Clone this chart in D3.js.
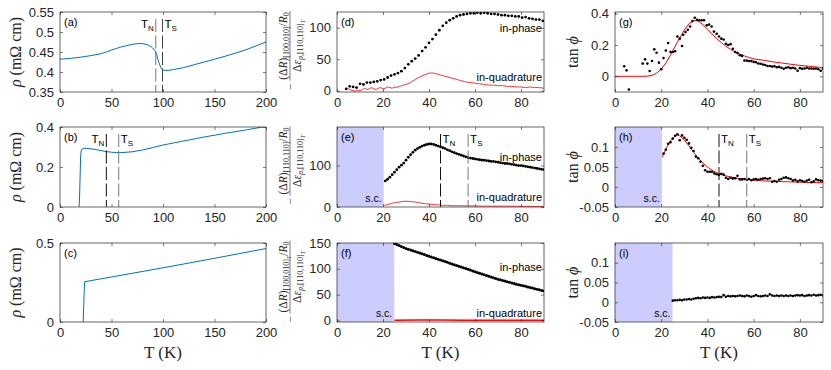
<!DOCTYPE html>
<html>
<head>
<meta charset="utf-8">
<script src="https://cdn.jsdelivr.net/npm/d3@7"></script>
<style>
  body { margin: 0; background: #fff; }
  svg { display: block; }
</style>
</head>
<body>
<div id="chart"></div>
<script>
// ---- data: resistivity, [T (K), rho (mOhm cm)]
const rhoA = [[0,0.432],[10,0.434],[20,0.437],[30,0.441],[40,0.446],[45,0.45],[50,0.455],[55,0.459],[60,0.463],[65,0.466],[70,0.469],[75,0.471],[80,0.471],[85,0.468],[88,0.464],[90,0.46],[92,0.454],[93,0.45],[94,0.442],[95,0.432],[96,0.424],[97,0.417],[98,0.411],[99,0.407],[100,0.405],[102,0.404],[105,0.404],[110,0.406],[120,0.411],[130,0.418],[140,0.425],[150,0.432],[160,0.439],[170,0.447],[180,0.455],[190,0.465],[200,0.475]];
const rhoB = [[18.5,0],[19,0.05],[19.5,0.15],[20,0.25],[20.5,0.28],[21.5,0.29],[23,0.293],[26,0.293],[30,0.291],[35,0.287],[40,0.282],[45,0.277],[50,0.274],[55,0.272],[60,0.272],[70,0.276],[80,0.285],[90,0.297],[100,0.31],[120,0.33],[140,0.35],[160,0.368],[180,0.385],[200,0.403]];
const rhoC = [[22.5,0],[23,0.1],[23.5,0.2],[24,0.255],[50,0.285],[100,0.343],[150,0.403],[200,0.465]];

// ---- elastoresistance, [T (K), value]
const dPhase = [[4,3],[5.5,7],[7,6],[8.5,5],[10,11],[11.5,10],[13,13],[14.5,13],[16,14],[17.5,15],[19,17],[20.5,18],[22,21],[23.5,24],[25,26],[26.5,28],[28,31],[29.5,36],[31,42],[32.5,47],[34,51],[35.5,56],[37,63],[38.5,69],[40,76],[41.5,82],[43,89],[44.5,96],[46,103],[47.5,108],[49,112],[50.5,115],[52,118],[53.5,120],[55,121],[56.5,122],[58,123],[59.5,123],[61,124],[62.5,123],[64,124],[65.5,123],[67,122],[68.5,122],[70,121],[71.5,120],[73,120],[74.5,119],[76,119],[77.5,118],[79,118],[80.5,116],[82,117],[83.5,115],[85,114],[86.5,113],[88,113],[89.5,111]];
const dQuad = [[4,2],[5,3],[6,1],[7,0],[8,-1],[9,1],[10,0],[11,2],[12,4],[13,2],[14,3],[15,5],[16,3],[17,2],[18,4],[19,5],[20,3],[21,4],[22,6],[23,5],[24,4],[25,6],[26,5],[27,7],[28,8],[30,10],[32,13],[34,18],[36,22],[38,25],[40,28],[42,28],[44,26],[46,24],[48,22],[50,20],[52,18],[54,16],[56,14],[58,13],[60,12],[62,11],[64,10],[66,9],[68,9],[70,8],[72,8],[74,7],[76,7],[78,6],[80,6],[82,5],[84,6],[86,5],[88,5],[90,4]];
const ePhase = [[21,63],[22,67],[23,72],[24,78],[25,84],[26,90],[27,96],[28,101],[29,106],[30,113],[31,120],[32,126],[33,132],[34,137],[35,141],[36,144],[37,147],[38,149],[39,151],[40,152],[41,152],[42,151],[43,149],[44,147],[45,145],[46,143],[47,141],[48,138],[49,136],[50,133],[51,131],[52,129],[53,127],[54,125],[55,123],[56,121],[57,119],[58,118],[59,117],[60,116],[61,115],[62,114],[63,113],[64,113],[65,112],[66,111],[67,110],[68,110],[69,109],[70,108],[71,107],[72,106],[73,105],[74,105],[75,104],[76,103],[77,102],[78,101],[79,100],[80,100],[81,99],[82,98],[83,97],[84,96],[85,95],[86,94],[87,93],[88,92],[89,91],[90,90]];
const eQuad = [[20.5,4],[22,6],[24,9],[26,11],[28,13],[30,14],[32,13],[34,12],[36,10],[38,8],[40,7],[42,6],[44,5],[46,4],[48,4],[50,3],[55,3],[60,2.5],[65,2],[70,2],[75,2],[80,1.5],[85,1.5],[90,1.5]];
const fPhase = [[25,149],[26,147],[27,145],[28,143],[29,141.5],[30,139.5],[31,138],[32,136.5],[33,135],[34,133.5],[35,132],[36,130.5],[37,129],[38,127.5],[39,126],[40,124.5],[41,123],[42,121.5],[43,120],[44,118.5],[45,117],[46,115.5],[47,114],[48,112.5],[49,111],[50,109.5],[51,108],[52,106.5],[53,105],[54,103.5],[55,102],[56,100.5],[57,99],[58,97.5],[59,96],[60,94.5],[61,93],[62,91.5],[63,90],[64,88.5],[65,87],[66,85.5],[67,84],[68,82.7],[69,81.4],[70,80],[71,78.8],[72,77.5],[73,76.2],[74,75],[75,73.8],[76,72.6],[77,71.4],[78,70.2],[79,69],[80,68],[81,67],[82,66],[83,65],[84,64],[85,62.8],[86,61.6],[87,60.4],[88,59.3],[89,58.2],[90,57]];
const fQuad = [[25,0.5],[35,0.8],[45,0.7],[55,0.6],[65,0.6],[75,0.5],[90,0.5]];

// ---- tan(phi), [T (K), value]
const gDots = [[4,0.064],[5,0.038],[6,-0.084],[12,0.081],[13,0.108],[14,0.081],[15,0.034],[16,0.098],[17,0.172],[18,0.15],[19,0.087],[20,0.045],[21,0.116],[22,0.165],[23,0.212],[24,0.155],[25,0.155],[26,0.16],[27,0.254],[28,0.24],[29,0.193],[29.5,0.265],[30.5,0.282],[31.5,0.297],[32.5,0.318],[33.5,0.352],[34.5,0.373],[35.5,0.36],[36.5,0.357],[37.5,0.357],[38.5,0.357],[39.7,0.325],[40.7,0.33],[41.8,0.318],[42.8,0.285],[44,0.271],[45,0.254],[46,0.24],[47,0.235],[48,0.208],[49,0.2],[50,0.205],[51,0.176],[52,0.155],[53,0.148],[54,0.134],[55,0.13],[56,0.101],[57,0.1],[58,0.098],[59,0.097],[60,0.092],[61,0.09],[62,0.082],[63,0.08],[64,0.075],[65,0.072],[66,0.066],[67,0.066],[68,0.062],[69,0.064],[70,0.058],[71,0.06],[72,0.055],[73,0.048],[74,0.055],[75,0.058],[76,0.052],[77,0.055],[78,0.05],[79,0.035],[80,0.052],[81,0.048],[82,0.05],[83,0.055],[84,0.05],[85,0.05],[86,0.048],[87,0.05],[88,0.045],[89,0.035],[90,0.05]];
const gFit = [[0,0],[4,0],[8,0],[12,0],[14,0.001],[16,0.006],[18,0.02],[20,0.045],[22,0.085],[24,0.135],[26,0.19],[28,0.245],[30,0.295],[32,0.335],[34,0.355],[35,0.356],[36,0.352],[38,0.33],[40,0.3],[42,0.27],[44,0.24],[46,0.215],[48,0.192],[50,0.172],[52,0.156],[54,0.142],[56,0.13],[58,0.12],[60,0.111],[64,0.103],[68,0.093],[72,0.085],[76,0.077],[80,0.07],[84,0.064],[88,0.058],[90,0.056]];
const hDots = [[21,0.0835],[22,0.093],[23,0.108],[24,0.112],[25,0.121],[26,0.128],[27,0.132],[28,0.117],[29,0.129],[30,0.123],[31,0.118],[32,0.109],[33,0.098],[34,0.09],[35,0.076],[36,0.072],[37,0.063],[38,0.053],[39,0.042],[40,0.038],[41,0.038],[42,0.038],[43,0.034],[44,0.032],[45,0.03],[46,0.033],[47,0.031],[48,0.023],[49,0.02],[50,0.023],[51,0.021],[52,0.022],[53,0.028],[54,0.019],[55,0.019],[56,0.02],[57,0.018],[58,0.02],[59,0.017],[60,0.019],[61,0.02],[62,0.018],[63,0.02],[64,0.021],[65,0.022],[66,0.02],[67,0.022],[68,0.013],[69,0.015],[70,0.013],[71,0.018],[72,0.02],[73,0.023],[74,0.024],[75,0.022],[76,0.02],[77,0.016],[78,0.018],[79,0.014],[80,0.017],[81,0.015],[82,0.013],[83,0.016],[84,0.018],[85,0.012],[86,0.014],[87,0.019],[88,0.017],[89,0.016],[90,0.015]];
const hFit = [[20.5,0.075],[22,0.095],[24,0.115],[26,0.128],[27,0.13],[28,0.128],[30,0.118],[32,0.103],[34,0.087],[36,0.072],[38,0.06],[40,0.05],[42,0.042],[44,0.036],[46,0.031],[48,0.028],[50,0.025],[55,0.02],[60,0.017],[65,0.015],[70,0.014],[75,0.013],[80,0.012],[85,0.011],[90,0.011]];
const iDots = [[25,0.004],[26,0.005],[27,0.005],[28,0.006],[29,0.005],[30,0.007],[31,0.007],[32,0.008],[33,0.007],[34,0.009],[35,0.01],[36,0.011],[37,0.01],[38,0.012],[39,0.011],[40,0.012],[41,0.011],[42,0.013],[43,0.012],[44,0.013],[45,0.014],[46,0.013],[47,0.018],[48,0.014],[49,0.016],[50,0.015],[51,0.016],[52,0.015],[53,0.016],[54,0.017],[55,0.016],[56,0.015],[57,0.017],[58,0.016],[59,0.014],[60,0.016],[61,0.018],[62,0.016],[63,0.015],[64,0.016],[65,0.017],[66,0.016],[67,0.02],[68,0.017],[69,0.016],[70,0.017],[71,0.016],[72,0.017],[73,0.016],[74,0.017],[75,0.016],[76,0.017],[77,0.016],[78,0.017],[79,0.018],[80,0.017],[81,0.018],[82,0.016],[83,0.017],[84,0.018],[85,0.017],[86,0.019],[87,0.017],[88,0.018],[89,0.019],[90,0.017]];

// transition temperatures and superconducting limits (K)
const transA = { TN: 93, TS: 99.5 };
const transB = { TN: 45, TS: 57 };
const scE = 20.3, scF = 24.9;

// tick values
const xTicksRho = [0, 50, 100, 150, 200];
const xTicksT = [0, 20, 40, 60, 80];

const W = 831, H = 370;
const sans = "'Liberation Sans', Arial, Helvetica, sans-serif";
const serif = "'Liberation Serif', 'Times New Roman', serif";
const ink = "#262626";
const blue = "#0072BD";
const red = "#ff0000";
const shade = "#ccccff";

const svg = d3.select("#chart").append("svg")
  .attr("width", W).attr("height", H)
  .style("background", "#fff");

const cols = [{ x: 60, w: 206 }, { x: 337, w: 207 }, { x: 615, w: 208 }];
const rows = [{ y: 12, h: 80 }, { y: 127, h: 80 }, { y: 243, h: 79 }];

let clipId = 0;

// sets up scales, a clipped plot layer and an axes layer drawn on top
function panel(col, row, xDomain, yDomain) {
  const c = cols[col], r = rows[row];
  const x = d3.scaleLinear().domain(xDomain).range([c.x, c.x + c.w]);
  const y = d3.scaleLinear().domain(yDomain).range([r.y + r.h, r.y]);
  const id = "clip" + (clipId++);
  svg.append("clipPath").attr("id", id).append("rect")
    .attr("x", c.x).attr("y", r.y).attr("width", c.w).attr("height", r.h);
  const plot = svg.append("g").attr("clip-path", `url(#${id})`);
  const over = svg.append("g");
  return { x, y, c, r, plot, over };
}

function axes(p, xTicks, yTicks) {
  const { x, y, c, r, over } = p;
  const style = g => {
    g.select(".domain").remove();
    g.selectAll("line").attr("stroke", ink).attr("stroke-width", 0.6);
    g.selectAll("text").attr("fill", ink).attr("font-size", 13).attr("font-family", sans);
  };
  over.append("g").attr("transform", `translate(0,${r.y + r.h})`)
    .call(d3.axisBottom(x).tickValues(xTicks).tickSizeInner(-3).tickSizeOuter(0).tickPadding(6).tickFormat(d3.format("d")))
    .call(style);
  over.append("g").attr("transform", `translate(0,${r.y})`)
    .call(d3.axisTop(x).tickValues(xTicks).tickSizeInner(-3).tickSizeOuter(0).tickFormat(""))
    .call(style);
  over.append("g").attr("transform", `translate(${c.x},0)`)
    .call(d3.axisLeft(y).tickValues(yTicks).tickSizeInner(-3).tickSizeOuter(0).tickPadding(6).tickFormat(d => String(d)))
    .call(style);
  over.append("g").attr("transform", `translate(${c.x + c.w},0)`)
    .call(d3.axisRight(y).tickValues(yTicks).tickSizeInner(-3).tickSizeOuter(0).tickFormat(""))
    .call(style);
  over.append("rect")
    .attr("x", c.x).attr("y", r.y).attr("width", c.w).attr("height", r.h)
    .attr("fill", "none").attr("stroke", ink).attr("stroke-width", 0.7);
}

function letter(p, s) {
  p.over.append("text")
    .attr("x", p.c.x + 4).attr("y", p.r.y + 14)
    .attr("font-family", sans).attr("font-size", 11).attr("fill", "#000")
    .text(s);
}

function line(p, data, color, width) {
  const gen = d3.line().x(d => p.x(d[0])).y(d => p.y(d[1]));
  p.plot.append("path").datum(data)
    .attr("d", gen).attr("fill", "none")
    .attr("stroke", color).attr("stroke-width", width)
    .attr("stroke-linejoin", "round");
}

function dots(p, data, rad) {
  p.plot.append("g").selectAll("circle").data(data).join("circle")
    .attr("cx", d => p.x(d[0])).attr("cy", d => p.y(d[1]))
    .attr("r", rad).attr("fill", "#000");
}

function scRegion(p, tMax) {
  const x0 = p.x.range()[0];
  p.plot.append("rect")
    .attr("x", x0).attr("y", p.r.y)
    .attr("width", p.x(tMax) - x0).attr("height", p.r.h)
    .attr("fill", shade);
  p.over.append("text")
    .attr("x", p.x(tMax) - 2).attr("y", p.r.y + p.r.h - 5)
    .attr("text-anchor", "end")
    .attr("font-family", sans).attr("font-size", 10.5).attr("fill", "#000")
    .text("s.c.");
}

function tLine(p, t, color, name, side) {
  const xx = p.x(t);
  p.plot.append("line")
    .attr("x1", xx).attr("x2", xx)
    .attr("y1", p.r.y + 7).attr("y2", p.r.y + p.r.h)
    .attr("stroke", color).attr("stroke-width", 1)
    .attr("stroke-dasharray", "13,3.5");
  const tx = p.over.append("text")
    .attr("x", side === "left" ? xx - 2 : xx + 2)
    .attr("y", p.r.y + 16)
    .attr("text-anchor", side === "left" ? "end" : "start")
    .attr("font-family", sans).attr("font-size", 11.5).attr("fill", "#000");
  tx.append("tspan").text("T");
  tx.append("tspan").attr("font-size", 8).attr("dy", 3).text(name);
}

function inLabels(p, yPhase, yQuad) {
  [["in-phase", yPhase], ["in-quadrature", yQuad]].forEach(([s, yy]) => {
    p.over.append("text")
      .attr("x", p.c.x + p.c.w - 2).attr("y", p.r.y + yy)
      .attr("text-anchor", "end")
      .attr("font-family", sans).attr("font-size", 11).attr("fill", "#000")
      .text(s);
  });
}

function rotLabel(cx, cy, build) {
  const t = svg.append("text")
    .attr("transform", `translate(${cx},${cy}) rotate(-90)`)
    .attr("text-anchor", "middle")
    .attr("font-family", serif).attr("font-size", 16).attr("fill", ink);
  build(t);
}

// fraction label: -(num)/(den), rotated
function fracLabel(row, numParts, denParts) {
  const r = rows[row];
  const cx = 290, cy = r.y + 34;
  const g = svg.append("g").attr("transform", `translate(${cx},${cy}) rotate(-90)`)
    .attr("font-family", serif).attr("fill", ink);
  const build = (y, parts) => {
    const t = g.append("text").attr("y", y).attr("text-anchor", "middle").attr("font-size", 11.5);
    parts.forEach(([s, opt]) => {
      const ts = t.append("tspan").text(s);
      if (opt.it) ts.attr("font-style", "italic");
      if (opt.fs) ts.attr("font-size", opt.fs);
      if (opt.dy) ts.attr("dy", opt.dy);
    });
    return t;
  };
  const num = build(-3.5, numParts);
  build(10.5, denParts);
  const L = num.node().getComputedTextLength() + 2;
  g.append("line").attr("x1", -L / 2).attr("x2", L / 2).attr("y1", 0).attr("y2", 0)
    .attr("stroke", ink).attr("stroke-width", 0.6);
  g.append("text").attr("x", -L / 2 - 6).attr("y", 3.5).attr("text-anchor", "middle")
    .attr("font-size", 11).text("\u2212");
}

// ---------------- column 1: resistivity ----------------
const pA = panel(0, 0, [0, 200], [0.35, 0.55]);
line(pA, rhoA, blue, 1);
tLine(pA, transA.TN, "#777", "N", "left");
tLine(pA, transA.TS, "#444", "S", "right");
axes(pA, xTicksRho, [0.35, 0.4, 0.45, 0.5, 0.55]);
letter(pA, "(a)");

const pB = panel(0, 1, [0, 200], [0, 0.4]);
line(pB, rhoB, blue, 1);
tLine(pB, transB.TN, "#111", "N", "left");
tLine(pB, transB.TS, "#777", "S", "right");
axes(pB, xTicksRho, [0, 0.2, 0.4]);
letter(pB, "(b)");

const pC = panel(0, 2, [0, 200], [0, 0.5]);
line(pC, rhoC, blue, 1);
axes(pC, xTicksRho, [0, 0.5]);
letter(pC, "(c)");

rows.forEach(r => rotLabel(21, r.y + r.h / 2, t => {
  t.append("tspan").attr("font-style", "italic").text("\u03C1");
  t.append("tspan").text(" (m\u03A9 cm)");
}));

// ---------------- column 2: elastoresistance ----------------
const pD = panel(1, 0, [0, 90], [-2, 125]);
line(pD, dQuad, red, 0.8);
dots(pD, dPhase, 1.4);
axes(pD, xTicksT, [0, 50, 100]);
letter(pD, "(d)");
inLabels(pD, 20, 69);

const pE = panel(1, 1, [0, 90], [0, 193]);
scRegion(pE, scE);
line(pE, eQuad, red, 0.8);
dots(pE, ePhase, 1.4);
tLine(pE, transB.TN, "#111", "N", "right");
tLine(pE, transB.TS, "#777", "S", "right");
axes(pE, xTicksT, [0, 100]);
letter(pE, "(e)");
inLabels(pE, 34, 74);

const pF = panel(1, 2, [0, 90], [-3, 150]);
scRegion(pF, scF);
line(pF, fQuad, red, 1.5);
dots(pF, fPhase, 1.5);
axes(pF, xTicksT, [0, 50, 100, 150]);
letter(pF, "(f)");
inLabels(pF, 28, 74);

const sub = { fs: 8, dy: 2.5 };
const denom = [["\u0394", {}], ["\u03B5", { it: true }], ["p", { it: true, fs: 8, dy: 2.5 }], [",[110,110]", { fs: 8 }], ["T", { it: true, fs: 6, dy: 1.5 }]];
fracLabel(0,
  [["(\u0394", {}], ["R", { it: true }], [")", {}], ["[100,010]", sub], ["/", { dy: -2.5 }], ["R", { it: true }], ["0", sub]],
  denom);
fracLabel(1,
  [["(\u0394", {}], ["R", { it: true }], [")", {}], ["[110,110]", sub], ["/", { dy: -2.5 }], ["R", { it: true }], ["0", sub]],
  denom);
fracLabel(2,
  [["(\u0394", {}], ["R", { it: true }], [")", {}], ["[100,010]", sub], ["T", { it: true, fs: 6, dy: 1.5 }], ["/", { dy: -4 }], ["R", { it: true }], ["0", sub]],
  denom);

// ---------------- column 3: tan(phi) ----------------
const pG = panel(2, 0, [0, 90], [-0.1, 0.41]);
line(pG, gFit, red, 1);
dots(pG, gDots, 1.3);
axes(pG, xTicksT, [0, 0.2, 0.4]);
letter(pG, "(g)");

const pH = panel(2, 1, [0, 90], [-0.05, 0.15]);
scRegion(pH, scE);
line(pH, hFit, red, 1);
dots(pH, hDots, 1.3);
tLine(pH, transB.TN, "#111", "N", "right");
tLine(pH, transB.TS, "#777", "S", "right");
axes(pH, xTicksT, [-0.05, 0, 0.05, 0.1]);
letter(pH, "(h)");

const pI = panel(2, 2, [0, 90], [-0.05, 0.15]);
scRegion(pI, scF);
dots(pI, iDots, 1.3);
axes(pI, xTicksT, [-0.05, 0, 0.05, 0.1]);
letter(pI, "(i)");

rows.forEach(r => rotLabel(578, r.y + r.h / 2, t => {
  t.text("tan ");
  t.append("tspan").attr("font-style", "italic").text("\u03D5");
}));

// x labels
cols.forEach(c => {
  svg.append("text")
    .attr("x", c.x + c.w / 2).attr("y", 358)
    .attr("text-anchor", "middle")
    .attr("font-family", serif).attr("font-size", 17).attr("fill", ink)
    .text("T (K)");
});
</script>
</body>
</html>
